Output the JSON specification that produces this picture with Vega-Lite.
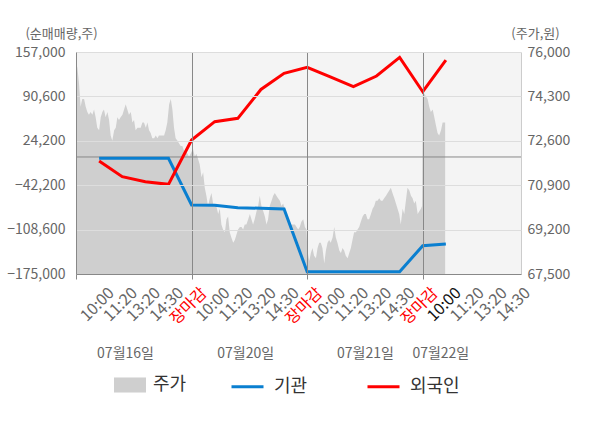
{
  "$schema": "https://vega.github.io/schema/vega-lite/v6.json",
  "description": "주가와 기관/외국인 순매매량",
  "width": 445,
  "height": 222,
  "autosize": {"type": "none"},
  "padding": {"left": 76, "top": 52, "right": 79, "bottom": 154},
  "config": {
    "font": "Noto Sans CJK KR",
    "view": {"fill": "#f4f4f4", "stroke": null},
    "axis": {"labelOverlap": false, "labelFlush": false, "labelBound": false},
    "axisX": {"labelOverlap": false}
  },
  "datasets": {
    "price": [
      {"t": 0, "price": 75600}, {"t": 0.06, "price": 75400}, {"t": 0.13, "price": 74800}, {"t": 0.2, "price": 73900},
      {"t": 0.27, "price": 74200}, {"t": 0.35, "price": 74200}, {"t": 0.42, "price": 73900}, {"t": 0.49, "price": 73700},
      {"t": 0.56, "price": 73600}, {"t": 0.63, "price": 73700}, {"t": 0.71, "price": 73600}, {"t": 0.78, "price": 73800},
      {"t": 0.85, "price": 73500}, {"t": 0.92, "price": 73100}, {"t": 1.0, "price": 73000}, {"t": 1.07, "price": 73500},
      {"t": 1.14, "price": 73700}, {"t": 1.21, "price": 73800}, {"t": 1.28, "price": 73500}, {"t": 1.36, "price": 73700},
      {"t": 1.43, "price": 73400}, {"t": 1.5, "price": 72800}, {"t": 1.57, "price": 72600}, {"t": 1.65, "price": 73000},
      {"t": 1.72, "price": 73100}, {"t": 1.79, "price": 73500}, {"t": 1.86, "price": 73400}, {"t": 1.93, "price": 73500},
      {"t": 2.01, "price": 73600}, {"t": 2.08, "price": 73800}, {"t": 2.15, "price": 74000}, {"t": 2.22, "price": 73800},
      {"t": 2.29, "price": 73600}, {"t": 2.37, "price": 73700}, {"t": 2.44, "price": 73300}, {"t": 2.51, "price": 73400},
      {"t": 2.58, "price": 73000}, {"t": 2.66, "price": 73100}, {"t": 2.73, "price": 73100}, {"t": 2.8, "price": 73100},
      {"t": 2.87, "price": 73300}, {"t": 2.94, "price": 73300}, {"t": 3.02, "price": 73100}, {"t": 3.09, "price": 73300},
      {"t": 3.16, "price": 73000}, {"t": 3.23, "price": 72900}, {"t": 3.3, "price": 72700}, {"t": 3.38, "price": 72700},
      {"t": 3.45, "price": 72800}, {"t": 3.52, "price": 72700}, {"t": 3.59, "price": 72800}, {"t": 3.67, "price": 72800},
      {"t": 3.74, "price": 72800}, {"t": 3.81, "price": 72800}, {"t": 3.88, "price": 73000}, {"t": 3.95, "price": 73300},
      {"t": 4.03, "price": 74000}, {"t": 4.1, "price": 74200}, {"t": 4.17, "price": 73800}, {"t": 4.24, "price": 73100},
      {"t": 4.31, "price": 72700}, {"t": 4.39, "price": 72600}, {"t": 4.46, "price": 72500}, {"t": 4.53, "price": 72400},
      {"t": 4.6, "price": 72400}, {"t": 4.68, "price": 72200}, {"t": 4.75, "price": 72200}, {"t": 4.82, "price": 72100},
      {"t": 4.89, "price": 72000},
      {"t": 4.96, "price": 72100}, {"t": 5.06, "price": 72300}, {"t": 5.14, "price": 72000}, {"t": 5.21, "price": 72100},
      {"t": 5.28, "price": 71900}, {"t": 5.35, "price": 71700}, {"t": 5.43, "price": 71200}, {"t": 5.5, "price": 71400},
      {"t": 5.57, "price": 70800}, {"t": 5.64, "price": 70500}, {"t": 5.71, "price": 70100}, {"t": 5.79, "price": 70400},
      {"t": 5.86, "price": 70600}, {"t": 5.93, "price": 70200}, {"t": 6.0, "price": 70100}, {"t": 6.07, "price": 70100},
      {"t": 6.15, "price": 69800}, {"t": 6.22, "price": 70000}, {"t": 6.29, "price": 69400}, {"t": 6.36, "price": 69200},
      {"t": 6.44, "price": 69100}, {"t": 6.51, "price": 69600}, {"t": 6.58, "price": 69700}, {"t": 6.65, "price": 69100},
      {"t": 6.72, "price": 68900}, {"t": 6.8, "price": 68700}, {"t": 6.87, "price": 68800}, {"t": 6.94, "price": 69000},
      {"t": 7.01, "price": 69200}, {"t": 7.09, "price": 69300}, {"t": 7.16, "price": 69300}, {"t": 7.23, "price": 69200},
      {"t": 7.3, "price": 69400}, {"t": 7.37, "price": 69400}, {"t": 7.45, "price": 69600}, {"t": 7.52, "price": 69800},
      {"t": 7.59, "price": 69600}, {"t": 7.66, "price": 69400}, {"t": 7.73, "price": 69600}, {"t": 7.81, "price": 69900},
      {"t": 7.88, "price": 70100}, {"t": 7.95, "price": 70500}, {"t": 8.02, "price": 70100}, {"t": 8.1, "price": 69900},
      {"t": 8.17, "price": 69700}, {"t": 8.24, "price": 69400}, {"t": 8.31, "price": 69600}, {"t": 8.38, "price": 70100},
      {"t": 8.46, "price": 70300}, {"t": 8.53, "price": 70500}, {"t": 8.6, "price": 70600}, {"t": 8.67, "price": 70500},
      {"t": 8.74, "price": 70400}, {"t": 8.82, "price": 70300}, {"t": 8.89, "price": 70100}, {"t": 8.96, "price": 70200},
      {"t": 9.03, "price": 70000}, {"t": 9.1, "price": 69800}, {"t": 9.18, "price": 69600}, {"t": 9.25, "price": 69400},
      {"t": 9.32, "price": 69400}, {"t": 9.39, "price": 69400}, {"t": 9.47, "price": 69400}, {"t": 9.54, "price": 69300},
      {"t": 9.61, "price": 69200}, {"t": 9.68, "price": 69300}, {"t": 9.75, "price": 69500}, {"t": 9.83, "price": 69600},
      {"t": 9.9, "price": 69300}, {"t": 9.97, "price": 69200},
      {"t": 10.01, "price": 68400}, {"t": 10.09, "price": 68000}, {"t": 10.16, "price": 68300}, {"t": 10.23, "price": 68500},
      {"t": 10.3, "price": 68200}, {"t": 10.38, "price": 68100}, {"t": 10.45, "price": 68500}, {"t": 10.52, "price": 68700},
      {"t": 10.59, "price": 68700}, {"t": 10.66, "price": 68500}, {"t": 10.74, "price": 67900}, {"t": 10.81, "price": 68400},
      {"t": 10.88, "price": 68700}, {"t": 10.95, "price": 68800}, {"t": 11.02, "price": 68700}, {"t": 11.1, "price": 68900},
      {"t": 11.17, "price": 69300}, {"t": 11.24, "price": 68900}, {"t": 11.31, "price": 68700}, {"t": 11.39, "price": 68400},
      {"t": 11.46, "price": 68300}, {"t": 11.53, "price": 68500}, {"t": 11.6, "price": 68400}, {"t": 11.67, "price": 68200},
      {"t": 11.75, "price": 68100}, {"t": 11.82, "price": 68300}, {"t": 11.89, "price": 68500}, {"t": 11.96, "price": 68800},
      {"t": 12.03, "price": 69100}, {"t": 12.11, "price": 69100}, {"t": 12.18, "price": 69200}, {"t": 12.25, "price": 69300},
      {"t": 12.32, "price": 69500}, {"t": 12.4, "price": 69700}, {"t": 12.47, "price": 69800}, {"t": 12.54, "price": 69800},
      {"t": 12.61, "price": 69600}, {"t": 12.68, "price": 69600}, {"t": 12.76, "price": 69800}, {"t": 12.83, "price": 70000},
      {"t": 12.9, "price": 70100}, {"t": 12.97, "price": 70300}, {"t": 13.04, "price": 70300}, {"t": 13.12, "price": 70400},
      {"t": 13.19, "price": 70300}, {"t": 13.26, "price": 70300}, {"t": 13.33, "price": 70400}, {"t": 13.41, "price": 70500},
      {"t": 13.48, "price": 70600}, {"t": 13.55, "price": 70700}, {"t": 13.62, "price": 70800}, {"t": 13.69, "price": 70600},
      {"t": 13.77, "price": 70400}, {"t": 13.84, "price": 70200}, {"t": 13.91, "price": 70000}, {"t": 13.98, "price": 69800},
      {"t": 14.05, "price": 69400}, {"t": 14.13, "price": 70000}, {"t": 14.2, "price": 69800}, {"t": 14.27, "price": 70300},
      {"t": 14.34, "price": 70800}, {"t": 14.42, "price": 70700}, {"t": 14.49, "price": 70500}, {"t": 14.56, "price": 70400},
      {"t": 14.63, "price": 70200}, {"t": 14.7, "price": 70300}, {"t": 14.78, "price": 69800}, {"t": 14.85, "price": 69900},
      {"t": 14.92, "price": 70000}, {"t": 14.97, "price": 70100},
      {"t": 15.0, "price": 74400}, {"t": 15.07, "price": 74400}, {"t": 15.14, "price": 74300}, {"t": 15.21, "price": 74200},
      {"t": 15.28, "price": 73900}, {"t": 15.35, "price": 73700}, {"t": 15.43, "price": 73800}, {"t": 15.5, "price": 73500},
      {"t": 15.57, "price": 73200}, {"t": 15.64, "price": 72900}, {"t": 15.71, "price": 72800}, {"t": 15.79, "price": 73000},
      {"t": 15.86, "price": 73300}, {"t": 15.93, "price": 73300}, {"t": 15.97, "price": 73300}
    ],
    "flow": [
      {"t": 1, "series": "기관", "value": -2000}, {"t": 2, "series": "기관", "value": -2000},
      {"t": 3, "series": "기관", "value": -2000}, {"t": 4, "series": "기관", "value": -2000},
      {"t": 5, "series": "기관", "value": -71800}, {"t": 6, "series": "기관", "value": -72300},
      {"t": 7, "series": "기관", "value": -75800}, {"t": 8, "series": "기관", "value": -76700},
      {"t": 9, "series": "기관", "value": -77800}, {"t": 10, "series": "기관", "value": -171500},
      {"t": 11, "series": "기관", "value": -171500}, {"t": 12, "series": "기관", "value": -171500},
      {"t": 13, "series": "기관", "value": -171500}, {"t": 14, "series": "기관", "value": -171500},
      {"t": 15, "series": "기관", "value": -132700}, {"t": 16, "series": "기관", "value": -130100},
      {"t": 1, "series": "외국인", "value": -6000}, {"t": 2, "series": "외국인", "value": -29500},
      {"t": 3, "series": "외국인", "value": -37000}, {"t": 4, "series": "외국인", "value": -40900},
      {"t": 5, "series": "외국인", "value": 25400}, {"t": 6, "series": "외국인", "value": 52800},
      {"t": 7, "series": "외국인", "value": 57800}, {"t": 8, "series": "외국인", "value": 101000},
      {"t": 9, "series": "외국인", "value": 125100}, {"t": 10, "series": "외국인", "value": 134100},
      {"t": 11, "series": "외국인", "value": 119800}, {"t": 12, "series": "외국인", "value": 105100},
      {"t": 13, "series": "외국인", "value": 121100}, {"t": 14, "series": "외국인", "value": 149000},
      {"t": 15, "series": "외국인", "value": 97600}, {"t": 16, "series": "외국인", "value": 145000}
    ],
    "zero": [{"value": 0}],
    "dates": [
      {"t": 2.12, "date": "07월16일"}, {"t": 7.32, "date": "07월20일"},
      {"t": 12.5, "date": "07월21일"}, {"t": 15.76, "date": "07월22일"}
    ]
  },
  "layer": [
    {
      "data": {"name": "price"},
      "mark": {"type": "area", "interpolate": "linear"},
      "encoding": {
        "x": {"field": "t", "type": "quantitative", "scale": {"domain": [0, 19.25], "nice": false, "zero": false}, "axis": null},
        "y": {
          "field": "price", "type": "quantitative",
          "scale": {"domain": [67500, 76000], "nice": false, "zero": false},
          "axis": {
            "orient": "right", "values": [67500, 69200, 70900, 72600, 74300, 76000], "format": ",d",
            "grid": false, "ticks": false, "tickSize": 0, "labelPadding": 6, "labelFontSize": 14,
            "labelOverlap": false, "labelColor": "#666666", "domainColor": "#cccccc",
            "title": "(주가,원)", "titleAngle": 0, "titleAlign": "center", "titleBaseline": "middle",
            "titleX": 14, "titleY": -19, "titleFontSize": 13, "titleFontWeight": "normal", "titleColor": "#666666"
          }
        },
        "y2": {"datum": 67500},
        "fill": {
          "datum": "주가", "type": "nominal",
          "scale": {"domain": ["주가"], "range": ["#cfcfcf"]},
          "legend": {
            "orient": "none", "legendX": 38, "legendY": 317, "title": null,
            "symbolType": "M-1,-0.47H1V0.47H-1Z", "symbolSize": 1024, "symbolStrokeWidth": 0,
            "labelFontSize": 18, "labelColor": "#333333", "labelOffset": 7
          }
        }
      }
    },
    {
      "layer": [
        {
          "data": {"name": "zero"},
          "mark": {"type": "rule", "color": "#888888", "strokeWidth": 1},
          "encoding": {"y": {"field": "value", "type": "quantitative"}}
        },
        {
          "data": {"name": "flow"},
          "mark": {"type": "line", "strokeWidth": 3, "interpolate": "linear"},
          "encoding": {
            "x": {
              "field": "t", "type": "quantitative",
              "scale": {"domain": [0, 19.25], "nice": false, "zero": false},
              "axis": {
                "orient": "bottom", "title": null, "zindex": 1, "labelOverlap": false,
                "values": [0, 1, 2, 3, 4, 5, 6, 7, 8, 9, 10, 11, 12, 13, 14, 15, 16, 17, 18, 19],
                "labelExpr": "datum.value == 0 ? '' : datum.value % 5 == 0 ? '장마감' : ['10:00', '11:20', '13:20', '14:30'][datum.value % 5 - 1]",
                "labelAngle": -45, "labelAlign": "right", "labelBaseline": "middle",
                "labelFontSize": 16, "labelPadding": 11, "labelOffset": 12,
                "labelColor": {"condition": [{"test": "datum.value % 5 == 0", "value": "#ff0000"}, {"test": "datum.value == 16", "value": "#111111"}], "value": "#666666"},
                "domainColor": "#888888", "tickColor": "#888888", "tickSize": 5,
                "tickOpacity": {"condition": {"test": "datum.value % 5 == 0", "value": 1}, "value": 0},
                "grid": true, "gridColor": "#888888",
                "gridOpacity": {"condition": {"test": "datum.value % 5 == 0 && datum.value > 0", "value": 1}, "value": 0}
              }
            },
            "y": {
              "field": "value", "type": "quantitative",
              "scale": {"domain": [-175000, 157000], "nice": false, "zero": false},
              "axis": {
                "orient": "left", "values": [-175000, -108600, -42200, 24200, 90600, 157000], "format": ",d",
                "grid": true, "gridColor": "#dddddd", "zindex": 1, "labelOverlap": false,
                "ticks": false, "tickSize": 0, "labelPadding": 11, "labelFontSize": 14, "labelColor": "#666666",
                "domainColor": "#888888",
                "title": "(순매매량,주)", "titleAngle": 0, "titleAlign": "center", "titleBaseline": "middle",
                "titleX": -15, "titleY": -19, "titleFontSize": 13, "titleFontWeight": "normal", "titleColor": "#666666"
              }
            },
            "stroke": {
              "field": "series", "type": "nominal",
              "scale": {"domain": ["기관", "외국인"], "range": ["#0a7fd0", "#ff0000"]},
              "legend": {
                "orient": "none", "legendX": 154, "legendY": 317, "title": null, "direction": "horizontal",
                "symbolType": "M-1,0H1", "symbolSize": 1024, "symbolStrokeWidth": 3,
                "labelFontSize": 18, "labelColor": "#333333", "labelOffset": 9, "columnPadding": 53
              }
            }
          }
        }
      ]
    },
    {
      "data": {"name": "dates"},
      "mark": {"type": "point", "opacity": 0},
      "encoding": {
        "x": {
          "field": "t", "type": "quantitative",
          "scale": {"domain": [0, 19.25], "nice": false, "zero": false},
          "axis": {
            "orient": "bottom", "title": null, "grid": false, "domain": false, "ticks": false, "tickSize": 0,
            "values": [2.12, 7.32, 12.5, 15.76], "labelOverlap": false,
            "labelExpr": "datum.value < 5 ? '07월16일' : datum.value < 10 ? '07월20일' : datum.value < 15 ? '07월21일' : '07월22일'",
            "labelAngle": 0, "labelAlign": "center", "labelBaseline": "middle", "labelPadding": 79,
            "labelFontSize": 14, "labelColor": "#666666"
          }
        }
      }
    }
  ],
  "resolve": {"scale": {"y": "independent"}, "axis": {"x": "independent"}}
}
